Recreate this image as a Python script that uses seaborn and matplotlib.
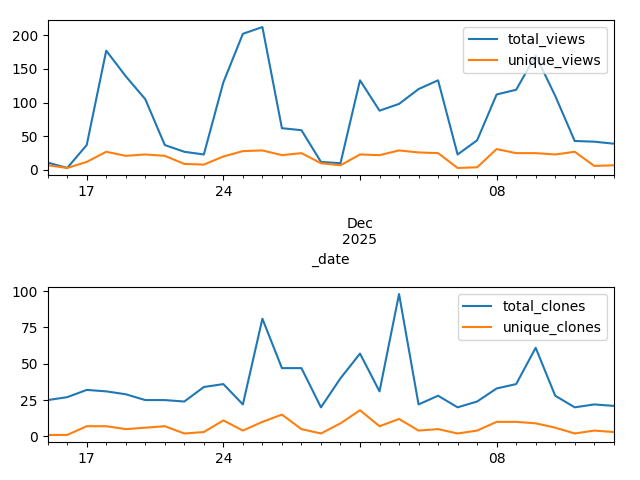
import pandas as pd
import seaborn as sns
import matplotlib
matplotlib.use('Agg')
import matplotlib.pyplot as plt
import matplotlib.dates as mdates

# daily traffic, 2025-11-15 .. 2025-12-14
dates = pd.date_range('2025-11-15', '2025-12-14', freq='D')

total_views = [11, 3, 37, 177, 139, 105, 37, 27, 23, 130,
               202, 212, 62, 59, 12, 10, 133, 88, 98, 120,
               133, 23, 44, 112, 119, 170, 110, 43, 42, 39]
unique_views = [7, 3, 12, 27, 21, 23, 21, 9, 8, 20,
                28, 29, 22, 25, 10, 7, 23, 22, 29, 26,
                25, 3, 4, 31, 25, 25, 23, 27, 6, 7]

total_clones = [25, 27, 32, 31, 29, 25, 25, 24, 34, 36,
                22, 81, 47, 47, 20, 40, 57, 31, 98, 22,
                28, 20, 24, 33, 36, 61, 28, 20, 22, 21]
unique_clones = [1, 1, 7, 7, 5, 6, 7, 2, 3, 11,
                 4, 10, 15, 5, 2, 9, 18, 7, 12, 4,
                 5, 2, 4, 10, 10, 9, 6, 2, 4, 3]

df = pd.DataFrame({
    '_date': dates,
    'total_views': total_views,
    'unique_views': unique_views,
    'total_clones': total_clones,
    'unique_clones': unique_clones,
})


def date_label(x, pos=None):
    d = mdates.num2date(x)
    if d.day == 1:
        return '\n\n' + d.strftime('%b') + '\n' + d.strftime('%Y')
    return d.strftime('%d')


def day_only(x, pos=None):
    # lower panel: the month/year line falls off the figure
    d = mdates.num2date(x)
    return '' if d.day == 1 else d.strftime('%d')


fig = plt.figure(figsize=(6.4, 4.8), dpi=100)
ax1 = fig.add_axes([0.0745, 0.6354, 0.8845, 0.3229])
ax2 = fig.add_axes([0.0745, 0.0792, 0.8845, 0.3229])

for ax, cols, fmt, xlab in [(ax1, ['total_views', 'unique_views'], date_label, '_date'),
                            (ax2, ['total_clones', 'unique_clones'], day_only, '')]:
    for col in cols:
        sns.lineplot(data=df, x='_date', y=col, ax=ax, label=col)
    ax.set_xlim(dates[0], dates[-1])
    ax.xaxis.set_major_locator(mdates.WeekdayLocator(byweekday=mdates.MO))
    ax.xaxis.set_minor_locator(mdates.DayLocator())
    ax.xaxis.set_major_formatter(plt.FuncFormatter(fmt))
    ax.xaxis.set_minor_formatter(plt.NullFormatter())
    ax.set_xlabel(xlab)
    ax.set_ylabel('')
    ax.legend(loc='upper right')

fig.savefig('out.png', dpi=100)
